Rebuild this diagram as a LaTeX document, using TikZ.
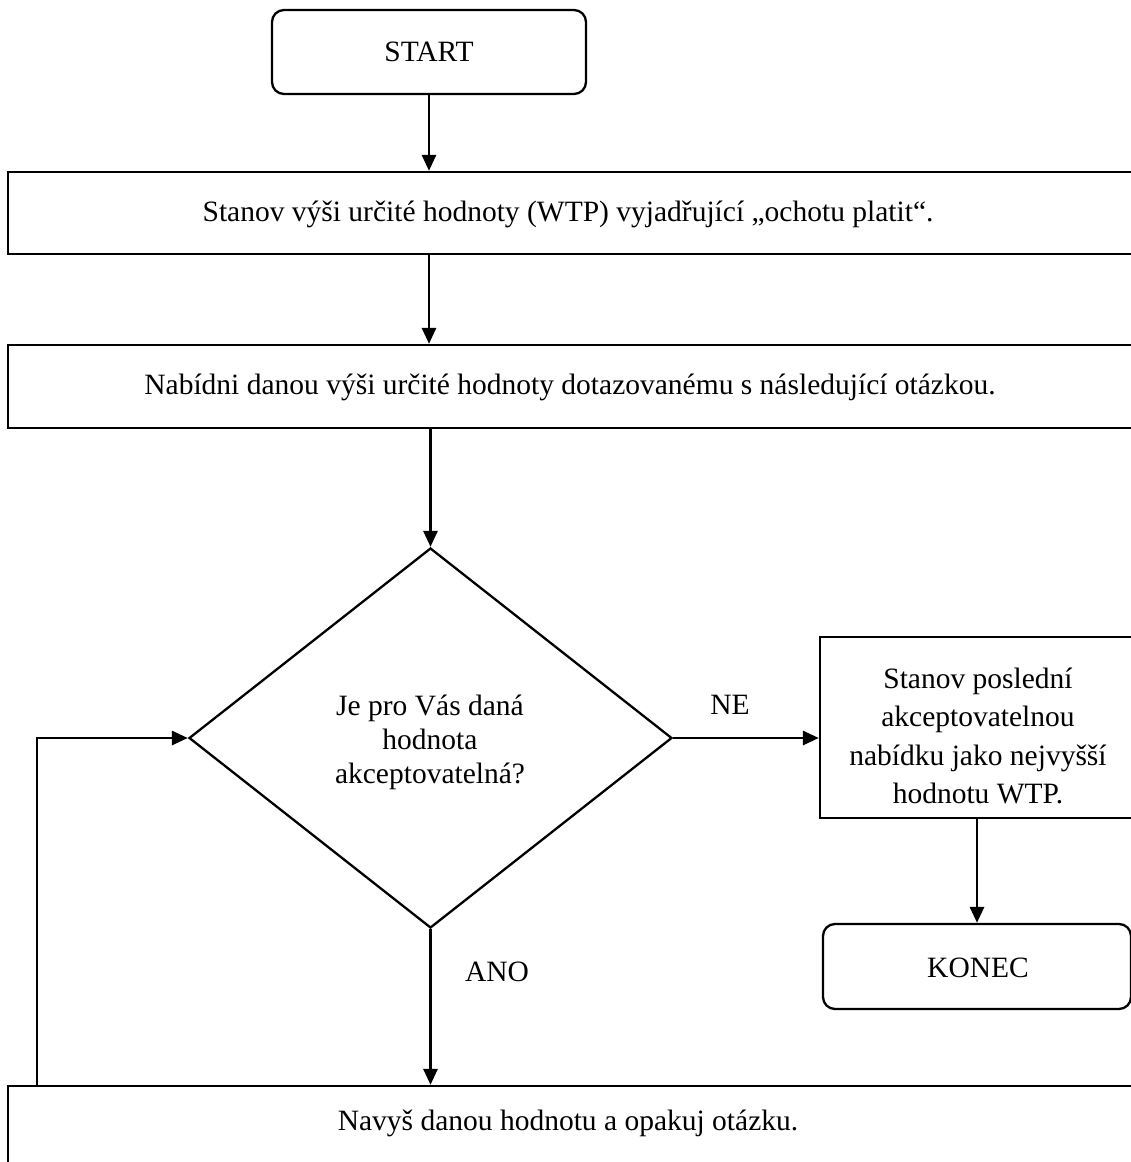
\documentclass[tikz,border=0pt]{standalone}
\usepackage{fontspec}
\setmainfont{Liberation Serif}
\usetikzlibrary{arrows.meta,shapes.geometric}
\tikzset{
  base/.style={font=\fontsize{29.5}{34}\selectfont, inner sep=0pt},
  boxn/.style={base, draw, rectangle, line width=2.3pt},
  rbox/.style={boxn, rounded corners=12pt},
  arr/.style={line width=2.9pt, -{Triangle[length=16pt,width=14pt]}},
}
\begin{document}
\begin{tikzpicture}[x=1pt,y=-1pt]
\useasboundingbox (0,0) rectangle (1130,1162);
\node[rbox, minimum width=314pt, minimum height=84pt] (start) at (429,52) {START};
\node[boxn, minimum width=1128pt, minimum height=82pt] (b1) at (572,213) {};
\node[base] (b1txt) at (568,214) {Stanov výši určité hodnoty (WTP) vyjadřující „ochotu platit“.};
\node[boxn, minimum width=1128pt, minimum height=83pt] (b2) at (572,386.5) {};
\node[base] (b2txt) at (570,387) {Nabídni danou výši určité hodnoty dotazovanému s následující otázkou.};
\node[draw, diamond, line width=2.3pt, minimum width=483pt, minimum height=380pt, inner sep=0pt] (dia) at (430.5,738) {};
\node[base, align=center] (diatxt) at (430,742) {Je pro Vás daná\\hodnota\\akceptovatelná?};
\node[boxn, minimum width=316pt, minimum height=181pt] (last) at (978,727.5) {};
\node[base, align=center, font=\fontsize{29.5}{38.5}\selectfont] (lasttxt) at (978,736) {Stanov poslední\\akceptovatelnou\\nabídku jako nejvyšší\\hodnotu WTP.};
\node[rbox, minimum width=308pt, minimum height=85pt] (end) at (977,966.5) {};
\node[base] (endtxt) at (978,968) {KONEC};
\node[boxn, minimum width=1128pt, minimum height=80pt] (b3) at (572,1126) {};
\node[base] (b3txt) at (568,1123) {Navyš danou hodnotu a opakuj otázku.};
\node[base] (ne) at (730,705) {NE};
\node[base] (ano) at (497,972) {ANO};
\coordinate (loopstart) at (37,1086);
\draw[arr] (start.south) -- (start.south |- b1.north);
\draw[arr] (start.south |- b1.south) -- (start.south |- b2.north);
\draw[arr] (dia.north |- b2.south) -- (dia.north);
\draw[arr] (dia.east) -- (last.west |- dia.east);
\draw[arr] (last.south -| end.north) -- (end.north);
\draw[arr] (dia.south) -- (dia.south |- b3.north);
\draw[arr] (loopstart) |- (dia.west);
\end{tikzpicture}
\end{document}
